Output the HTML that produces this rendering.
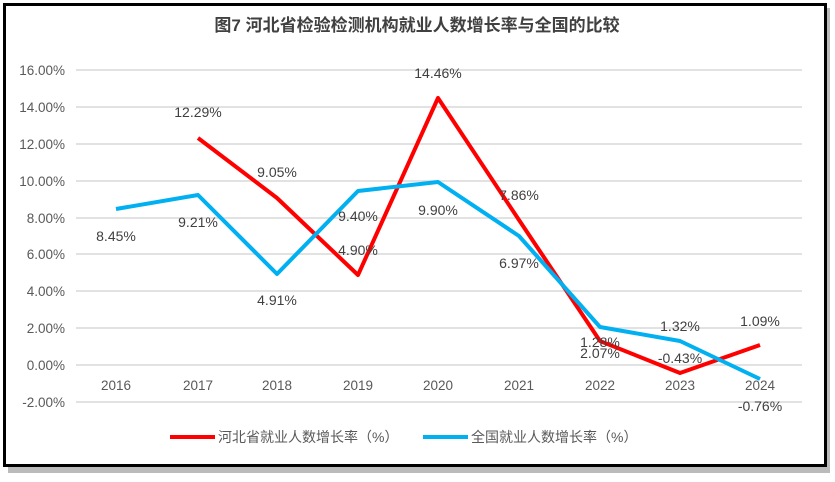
<!DOCTYPE html><html><head><meta charset="utf-8"><style>body{margin:0;background:#fff}</style></head><body>
<svg width="835" height="477" xmlns="http://www.w3.org/2000/svg" font-family="Liberation Sans, Noto Sans CJK SC, sans-serif">
<rect x="8" y="8" width="822" height="465" fill="#bbb"/>
<rect x="4.5" y="4.5" width="821" height="461" fill="#fff" stroke="#000" stroke-width="3"/>
<text x="417" y="31" text-anchor="middle" font-size="17" font-weight="bold" fill="#404040">图7  河北省检验检测机构就业人数增长率与全国的比较</text>
<g stroke="#d9d9d9" stroke-width="1.5">
<line x1="76" x2="802" y1="70" y2="70"/><line x1="76" x2="802" y1="107" y2="107"/><line x1="76" x2="802" y1="144" y2="144"/><line x1="76" x2="802" y1="181" y2="181"/><line x1="76" x2="802" y1="218" y2="218"/><line x1="76" x2="802" y1="254" y2="254"/><line x1="76" x2="802" y1="291" y2="291"/><line x1="76" x2="802" y1="328" y2="328"/><line x1="76" x2="802" y1="365" y2="365"/><line x1="76" x2="802" y1="402" y2="402"/>
</g>
<g font-size="13.5" fill="#595959" text-anchor="end">
<text x="65" y="75">16.00%</text><text x="65" y="112">14.00%</text><text x="65" y="149">12.00%</text><text x="65" y="186">10.00%</text><text x="65" y="223">8.00%</text><text x="65" y="259">6.00%</text><text x="65" y="296">4.00%</text><text x="65" y="333">2.00%</text><text x="65" y="370">0.00%</text><text x="65" y="407">-2.00%</text>
</g>
<g font-size="13.5" fill="#595959" text-anchor="middle">
<text x="116" y="390">2016</text><text x="198" y="390">2017</text><text x="277" y="390">2018</text><text x="358" y="390">2019</text><text x="438" y="390">2020</text><text x="519" y="390">2021</text><text x="600" y="390">2022</text><text x="680" y="390">2023</text><text x="760" y="390">2024</text>
</g>
<polyline fill="none" stroke="#ff0000" stroke-width="4" stroke-linejoin="round" points="198,138 277,198 358,275 438,98 519,220 600,341 680,373 760,345"/>
<polyline fill="none" stroke="#00b0f0" stroke-width="4" stroke-linejoin="round" points="116,209 198,195 277,274 358,191 438,182 519,236 600,327 680,341 760,379"/>
<g font-size="14" fill="#404040" text-anchor="middle">
<text x="198" y="117">12.29%</text><text x="277" y="177">9.05%</text><text x="358" y="255">4.90%</text><text x="438" y="78">14.46%</text><text x="519" y="200">7.86%</text><text x="600" y="347">1.28%</text><text x="680" y="363">-0.43%</text><text x="760" y="326">1.09%</text>
<text x="116" y="241">8.45%</text><text x="198" y="227">9.21%</text><text x="277" y="305">4.91%</text><text x="358" y="221">9.40%</text><text x="438" y="215">9.90%</text><text x="519" y="268">6.97%</text><text x="600" y="358">2.07%</text><text x="680" y="331">1.32%</text><text x="760" y="411">-0.76%</text>
</g>
<line x1="170" x2="215" y1="437" y2="437" stroke="#ff0000" stroke-width="4"/>
<text x="218" y="442" font-size="14" fill="#595959">河北省就业人数增长率（%）</text>
<line x1="423" x2="468" y1="437" y2="437" stroke="#00b0f0" stroke-width="4"/>
<text x="471" y="442" font-size="14" fill="#595959">全国就业人数增长率（%）</text>
</svg>
</body></html>
